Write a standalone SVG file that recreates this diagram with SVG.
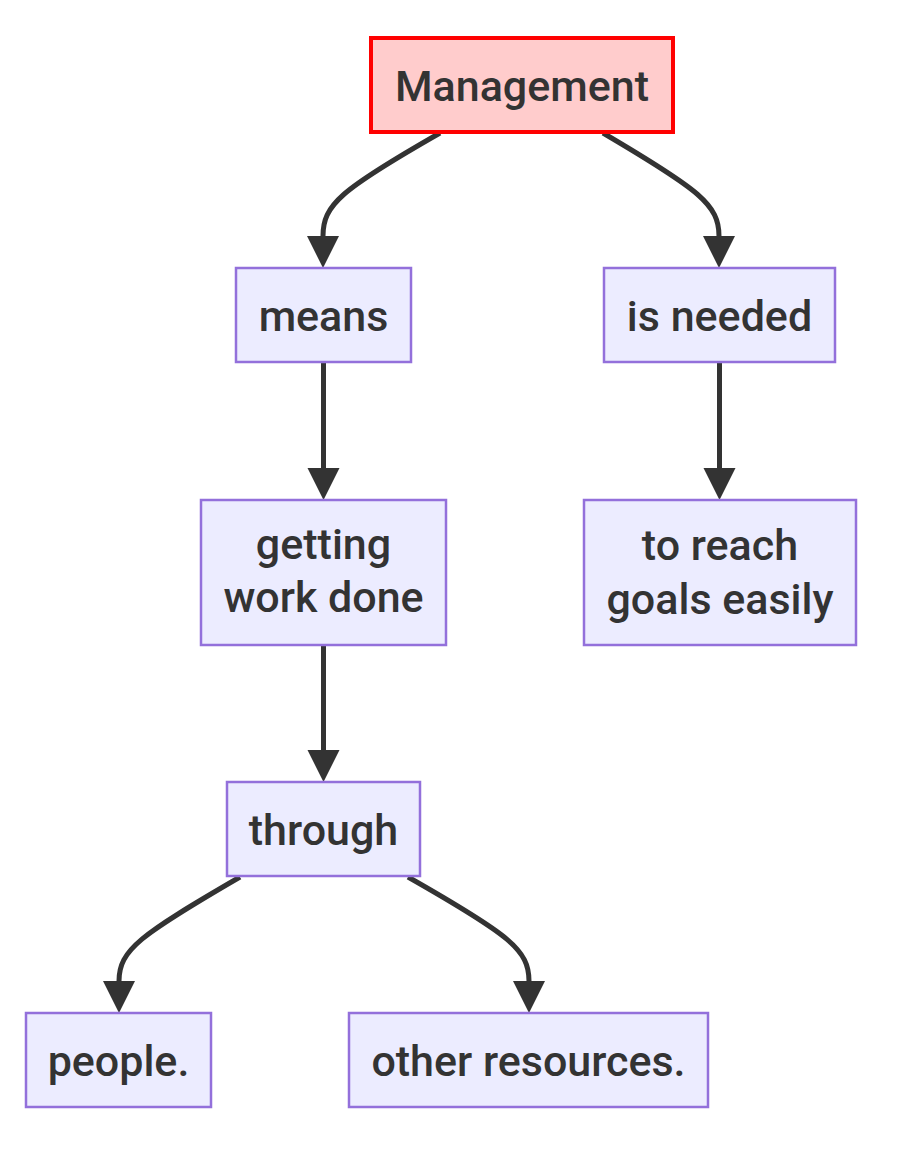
<svg xmlns="http://www.w3.org/2000/svg" width="908" height="1152" viewBox="0 0 908 1152">
<style>
.node rect{fill:#ECECFF;stroke:#9370DB;stroke-width:2.5}
.node.root rect{fill:#ffcccc;stroke:#ff0000;stroke-width:4}
.node text{font-family:Roboto,"Liberation Sans",sans-serif;font-size:43px;font-weight:500;fill:#333;text-anchor:middle}
.edge{fill:none;stroke:#333;stroke-width:5;marker-end:url(#arrow)}
</style>
<defs>
<marker id="arrow" viewBox="0 0 10 10" refX="0" refY="5" markerUnits="userSpaceOnUse" markerWidth="32" markerHeight="34" orient="auto">
<path d="M0,0 L10,5 L0,10 z" fill="#333"/>
</marker>
</defs>
<rect width="908" height="1152" fill="#fff"/>
<g id="connectors">
<path class="edge" d="M440,133 C340,190 323,205 323,236"/>
<path class="edge" d="M603,133 C700,190 719,205 719,236"/>
<path class="edge" d="M323.5,362 L323.5,468"/>
<path class="edge" d="M719.5,362 L719.5,468"/>
<path class="edge" d="M323.5,645 L323.5,750"/>
<path class="edge" d="M240,877 C140,935 119,950 119,981"/>
<path class="edge" d="M408,877 C510,935 529,950 529,981"/>
</g>
<g id="management" class="node root">
<rect x="371" y="38" width="302" height="94"/>
<text x="522" y="101">Management</text>
</g>
<g id="means" class="node">
<rect x="236" y="268" width="175" height="94"/>
<text x="323.5" y="331">means</text>
</g>
<g id="isneeded" class="node">
<rect x="604" y="268" width="231" height="94"/>
<text x="719.5" y="331">is needed</text>
</g>
<g id="getting" class="node">
<rect x="201" y="500" width="245" height="145"/>
<text x="323.5" y="559">getting</text>
<text x="323.5" y="612">work done</text>
</g>
<g id="toreach" class="node">
<rect x="584" y="500" width="272" height="145"/>
<text x="720" y="560">to reach</text>
<text x="720" y="614">goals easily</text>
</g>
<g id="through" class="node">
<rect x="227" y="782" width="193" height="94"/>
<text x="323.5" y="845">through</text>
</g>
<g id="people" class="node">
<rect x="26" y="1013" width="185" height="94"/>
<text x="118.5" y="1076">people.</text>
</g>
<g id="other" class="node">
<rect x="349" y="1013" width="359" height="94"/>
<text x="528.5" y="1076">other resources.</text>
</g>
</svg>
